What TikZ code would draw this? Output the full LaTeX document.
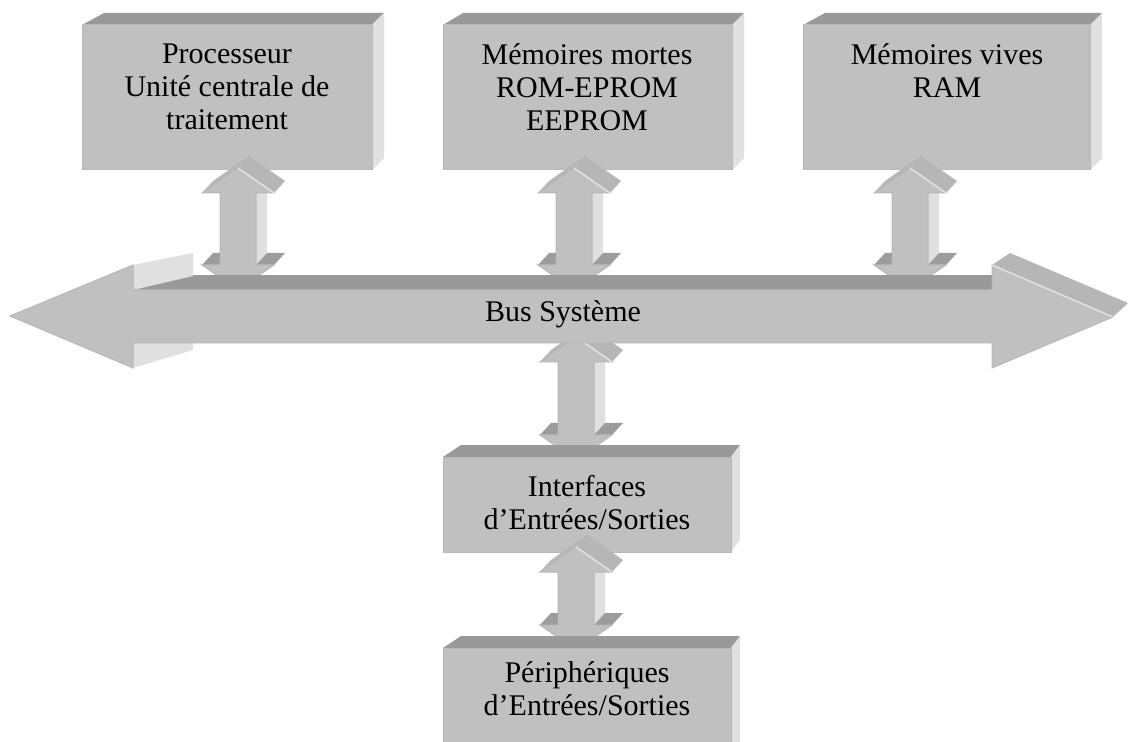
\documentclass[tikz,border=0pt]{standalone}
\usepackage{fontspec}
\setmainfont{Liberation Serif}
\definecolor{facefront}{HTML}{C0C0C0}
\definecolor{faceedge}{HTML}{B8B8B8}
\definecolor{facetop}{HTML}{999999}
\definecolor{faceside}{HTML}{E0E0E0}
\definecolor{facehead}{HTML}{B6B6B6}
\definecolor{facelow}{HTML}{9C9C9C}
\tikzset{
  frontface/.style={fill=facefront, draw=faceedge, line width=0.5pt, line join=miter},
  topface/.style={fill=facetop},
  sideface/.style={fill=faceside},
  headface/.style={fill=facehead},
  lowface/.style={fill=facelow},
  label/.style={font=\fontsize{15pt}{16.5pt}\selectfont, align=center, inner sep=0pt, text=black}
}
% extruded double arrow: centre x, top tip y, bottom tip y
\newcommand\dblarrow[3]{%
  \fill[sideface] ({#1+18},{#2+25}) -- ({#1+29},{#2+13}) -- ({#1+29},{#3-37}) -- ({#1+18},{#3-25}) -- cycle;
  \fill[lowface] ({#1-36},{#3-25}) -- ({#1-18},{#3-25}) -- ({#1-7},{#3-37}) -- ({#1-25},{#3-37}) -- cycle;
  \fill[lowface] ({#1+18},{#3-25}) -- ({#1+36},{#3-25}) -- ({#1+47},{#3-37}) -- ({#1+29},{#3-37}) -- cycle;
  \fill[headface] ({#1-36},{#2+25}) -- (#1,#2) -- ({#1+11},{#2-12}) -- ({#1-25},{#2+13}) -- cycle;
  \fill[headface] (#1,#2) -- ({#1+36},{#2+25}) -- ({#1+47},{#2+13}) -- ({#1+11},{#2-12}) -- cycle;
  \filldraw[frontface] (#1,#2) -- ({#1+36},{#2+25}) -- ({#1+18},{#2+25}) -- ({#1+18},{#3-25})
    -- ({#1+36},{#3-25}) -- (#1,#3) -- ({#1-36},{#3-25}) -- ({#1-18},{#3-25})
    -- ({#1-18},{#2+25}) -- ({#1-36},{#2+25}) -- cycle;
  \draw[faceside, line width=0.8pt] (#1,#2) -- ({#1+36},{#2+25});
}
% extruded block: x1, y1 (front top), x2, y2 (front bottom), left and right depth shift
\newcommand\solidbox[6]{%
  \fill[topface] (#1,#2) -- ({#1+#5},{#2-12}) -- ({#3+#6},{#2-12}) -- (#3,#2) -- cycle;
  \fill[sideface] (#3,#2) -- ({#3+#6},{#2-12}) -- ({#3+#6},{#4-12}) -- (#3,#4) -- cycle;
  \filldraw[frontface] (#1,#2) rectangle (#3,#4);
}
\begin{document}
\begin{tikzpicture}[x=0.5pt, y=-0.5pt]
\clip (0,0) rectangle (1128,742);
\fill[white] (0,0) rectangle (1128,742);

% memory and processor blocks
\solidbox{82}{25}{372}{170}{22}{12}
\solidbox{443}{25}{732}{170}{20}{12}
\solidbox{803}{25}{1090}{170}{22}{12}

% links between the blocks and the bus
\dblarrow{238}{168}{290}
\dblarrow{574}{168}{290}
\dblarrow{910}{168}{290}
\dblarrow{576}{337}{460}

% system bus
\fill[topface] (133,275) rectangle (1000,290);
\fill[sideface] (133,265) -- (193,253) -- (193,276) -- (133,290) -- cycle;
\fill[sideface] (133,343) -- (193,343) -- (193,350) -- (133,368) -- cycle;
\fill[headface] (992,265) -- (1010,253) -- (1128,303) -- (1113,317) -- cycle;
\filldraw[frontface] (10,316) -- (133,265) -- (133,290) -- (992,290) -- (992,265)
  -- (1113,317) -- (992,368) -- (992,343) -- (133,343) -- (133,368) -- cycle;
\draw[faceside, line width=0.8pt] (992,265) -- (1113,317);

% input/output interfaces and peripherals
\solidbox{443}{457}{731}{552}{18}{9}
\dblarrow{576}{547}{650}
\solidbox{443}{648}{731}{760}{18}{9}

% texts
\node[label, anchor=north] (cpu) at (227,43) {Processeur\\Unité centrale de\\traitement};
\node[label, anchor=north] (rom) at (587,43) {Mémoires mortes\\ROM-EPROM\\EEPROM};
\node[label, anchor=north] (ram) at (947,43) {Mémoires vives\\RAM};
\node[label, anchor=base] (bus) at (563,322) {Bus Système};
\node[label, anchor=north] (io) at (587,475) {Interfaces\\d’Entrées/Sorties};
\node[label, anchor=north] (periph) at (587,661) {Périphériques\\d’Entrées/Sorties};
\end{tikzpicture}
\end{document}
